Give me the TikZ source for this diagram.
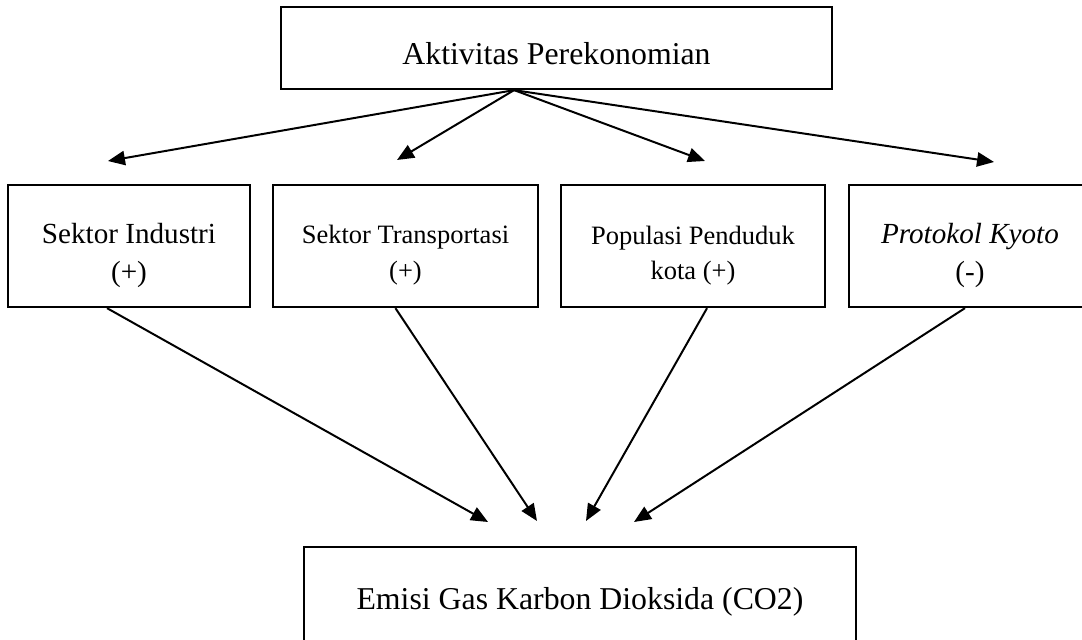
\documentclass[tikz,border=0pt]{standalone}
\usepackage{fontspec}
\setmainfont{Liberation Serif}
\usetikzlibrary{arrows.meta,positioning}

\newcommand\topgap[1]{\rule{0pt}{#1}}

\begin{document}
\begin{tikzpicture}[x=0.3774pt,y=-0.3774pt,
    box/.style={draw,line width=0.9pt,inner sep=0pt,align=center,minimum height=46pt},
    link/.style={line width=0.75pt,-{Triangle[length=6.4pt,width=5.4pt]}}]
    % Frame of the page
    \clip (0,0) rectangle (1082,640);

    % Boxes
    \node[box,minimum width=207.9pt,minimum height=30.9pt,font=\fontsize{12}{14}\selectfont] (econ) at (556.5,48) {\topgap{12.5pt}Aktivitas Perekonomian};
    \node[box,minimum width=91.3pt,font=\fontsize{11}{14.3}\selectfont] (industri) at (129,246) {\topgap{15pt}Sektor Industri\\(+)};
    \node[box,minimum width=100pt,font=\fontsize{10}{13.5}\selectfont] (transport) at (405.5,246) {\topgap{14pt}Sektor Transportasi\\(+)};
    \node[box,minimum width=99.6pt,font=\fontsize{10}{13.2}\selectfont] (populasi) at (693,246) {\topgap{14pt}Populasi Penduduk\\kota (+)};
    \node[box,minimum width=91.3pt,font=\fontsize{11}{14.3}\selectfont] (kyoto) at (970,246) {\topgap{15pt}\textit{Protokol Kyoto}\\(-)};
    \node[box,minimum width=208.3pt,minimum height=37pt,font=\fontsize{12}{14}\selectfont] (emisi) at (580,596) {\topgap{13pt}Emisi Gas Karbon Dioksida (CO2)};

    % Free arrow ends
    \coordinate (t1) at (108,161);
    \coordinate (t2) at (397,160);
    \coordinate (t3) at (705,161);
    \coordinate (t4) at (994,162);
    \coordinate (b1) at (488,522);
    \coordinate (b2) at (537,521);
    \coordinate (b3) at (586,521);
    \coordinate (b4) at (634,522);

    % Economy to the factors
    \draw[link] ([xshift=-16pt]econ.south) -- (t1);
    \draw[link] ([xshift=-16pt]econ.south) -- (t2);
    \draw[link] ([xshift=-16pt]econ.south) -- (t3);
    \draw[link] ([xshift=-16pt]econ.south) -- (t4);

    % Factors to the emission
    \draw[link] ([xshift=-8.3pt]industri.south) -- (b1);
    \draw[link] ([xshift=-3.8pt]transport.south) -- (b2);
    \draw[link] ([xshift=5.3pt]populasi.south) -- (b3);
    \draw[link] ([xshift=-1.9pt]kyoto.south) -- (b4);
\end{tikzpicture}
\end{document}
